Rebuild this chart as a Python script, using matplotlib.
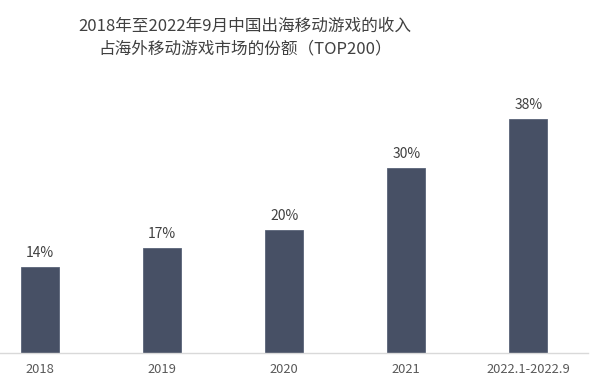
import matplotlib
matplotlib.use("Agg")
import matplotlib.pyplot as plt

plt.rcParams['font.family'] = ['Noto Sans CJK SC', 'DejaVu Sans']

categories = ['2018', '2019', '2020', '2021', '2022.1-2022.9']
shares = [14, 17, 20, 30, 38]
share_labels = ['14%', '17%', '20%', '30%', '38%']

bar_color = '#475065'
text_color = '#404040'

fig = plt.figure(figsize=(6, 3.87), dpi=100)
ax = fig.add_axes([0.0, 0.0879, 0.98, 0.654])

x = list(range(len(categories)))
bars = ax.bar(x, shares, width=0.31, color=bar_color, edgecolor='#5a6478', linewidth=0.6)

for xi, v, lab in zip(x, shares, share_labels):
    ax.annotate(lab, (xi, v), xytext=(0, 5), textcoords='offset points',
                ha='center', va='bottom', fontsize=10, color=text_color)

ax.set_xlim(-0.33, 4.49)
ax.set_ylim(0, 41.1)
ax.set_xticks(x)
ax.set_xticklabels(categories, fontsize=9.3, color='#595959')
ax.tick_params(axis='x', length=0, pad=7)
ax.set_yticks([])
for side in ['top', 'right', 'left']:
    ax.spines[side].set_visible(False)
ax.spines['bottom'].set_color('#d9d9d9')
ax.spines['bottom'].set_linewidth(1)

fig.text(0.408, 0.903, '2018年至2022年9月中国出海移动游戏的收入\n占海外移动游戏市场的份额（TOP200）',
         ha='center', va='center', fontsize=12, color=text_color, linespacing=1.5)

fig.savefig('out.png', dpi=100)
